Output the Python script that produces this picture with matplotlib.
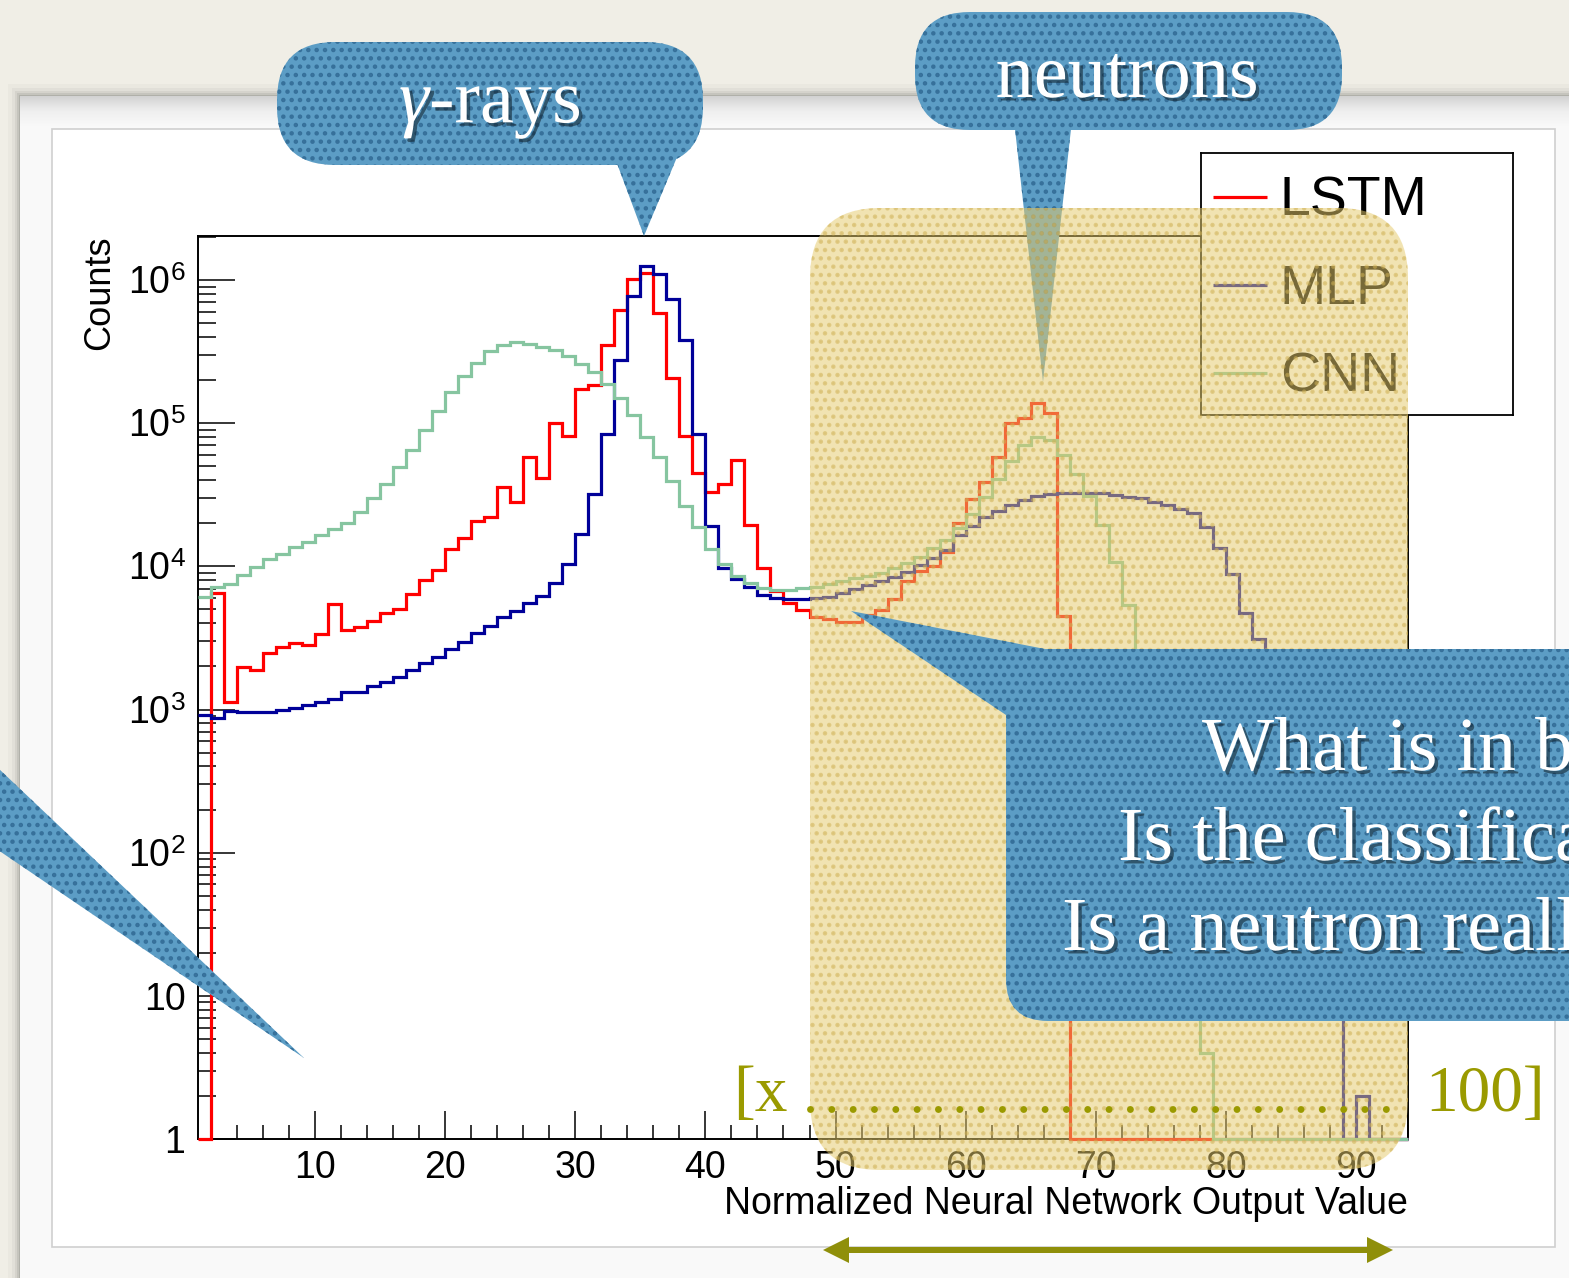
import numpy as np
import matplotlib
matplotlib.use("Agg")
import matplotlib.pyplot as plt
from matplotlib.patches import FancyBboxPatch, Polygon, Rectangle
from matplotlib.colors import LinearSegmentedColormap
from matplotlib.ticker import FixedLocator, MultipleLocator, LogLocator, NullFormatter
import matplotlib.patheffects as pe

plt.rcParams["font.family"] = ["Liberation Sans", "DejaVu Sans"]
plt.rcParams["mathtext.fontset"] = "custom"
plt.rcParams["mathtext.rm"] = "Liberation Sans"
plt.rcParams["mathtext.it"] = "Liberation Serif:italic"
plt.rcParams["mathtext.bf"] = "Liberation Sans:bold"
plt.rcParams["hatch.linewidth"] = 2.0

# ---------------- data ----------------
bin_edges = np.arange(1, 95)  # 93 unit-wide bins, 1 .. 94

lstm_counts = [
    0, 6530, 1130, 1990, 1900, 2470, 2720, 2900, 2820, 3360,
    5450, 3590, 3780, 4170, 4740, 5000, 6400, 8010, 9410, 13300,
    15900, 20600, 22200, 35600, 28200, 58200, 41100, 99500, 81200, 174600,
    184100, 350600, 615700, 1013000, 1121000, 592900, 205200, 81500, 44800, 33100,
    37700, 55700, 19400, 9660, 6780, 5530, 4940, 4400, 4260, 4100,
    4100, 4560, 4940, 5900, 7940, 9300, 10000, 12500, 19950, 29400,
    39000, 58200, 99500, 107900, 137400, 116900, 4500, 0, 0, 0,
    0, 0, 0, 0, 0, 0, 0, 0, 0, 0,
    0, 0, 0, 0, 0, 0, 0, 0, 0, 0,
    0, 0, 0,
]
mlp_counts = [
    914, 866, 975, 955, 955, 965, 990, 1018, 1074, 1132,
    1177, 1330, 1330, 1456, 1563, 1693, 1885, 2100, 2311, 2630,
    2970, 3400, 3820, 4444, 4890, 5510, 6225, 7600, 10350, 16800,
    31770, 83400, 275500, 774000, 1255000, 1099000, 734800, 379800, 83400, 19000,
    9660, 8100, 7190, 6300, 5970, 5900, 5880, 5970, 6120, 6470,
    6910, 7390, 7880, 8450, 9160, 10190, 11350, 13100, 16500, 19100,
    22200, 24400, 26800, 29000, 30900, 31900, 32600, 32600, 32600, 32300,
    31400, 30600, 29800, 28200, 26800, 25300, 23400, 18960, 13400, 8830,
    4700, 3100, 2000, 1170, 180, 45, 13, 13, 0, 2,
    0, 0, 0,
]
cnn_counts = [
    6120, 7190, 7510, 8690, 9930, 11170, 12170, 13550, 14820, 16510,
    18190, 20130, 24030, 29800, 37500, 49100, 64800, 89300, 121800, 165400,
    212700, 263600, 318300, 350600, 366200, 356300, 341400, 323600, 293800, 257000,
    227000, 189300, 150200, 113800, 80400, 57600, 39500, 26500, 18700, 13250,
    10400, 8540, 7600, 7010, 6820, 6820, 7080, 7190, 7510, 7880,
    8230, 8540, 9020, 9660, 10470, 11660, 13330, 15240, 18640, 23170,
    30300, 40450, 54500, 70200, 80200, 76100, 59800, 44400, 30800, 19500,
    10800, 5380, 2300, 900, 300, 90, 25, 4, 0, 0,
    0, 0, 0, 0, 0, 0, 0, 0, 0, 0,
    0, 0, 0,
]

series_names = ["LSTM", "MLP", "CNN"]
series_colors = ["#ff0000", "#000099", "#86c5a0"]
x_major_ticks = [10, 20, 30, 40, 50, 60, 70, 80, 90]
y_major_ticks = [1, 10, 1e2, 1e3, 1e4, 1e5, 1e6]
y_tick_labels = ["1", "10", r"$10^{2}$", r"$10^{3}$", r"$10^{4}$", r"$10^{5}$", r"$10^{6}$"]
x_label = "Normalized Neural Network Output Value"
y_label = "Counts"
gamma_text = r"$\gamma$-rays"
neutron_text = "neutrons"
question_lines = ["What is in b", "Is the classifica", "Is a neutron reall"]
range_left_text = "[x"
range_right_text = "100]"

# ---------------- figure ----------------
W, H, DPI = 1569, 1278, 100
fig = plt.figure(figsize=(W / DPI, H / DPI), dpi=DPI)
fig.patch.set_facecolor("#f0eee6")

def fx(px):
    return px / W

def fy(py):
    return 1 - py / H

# background (paper, card, canvas)
bg = fig.add_axes([0, 0, 1, 1], zorder=0)
bg.axis("off")
CX, CY = 20, 96
for d, a in [(12, 0.025), (8, 0.035), (5, 0.05), (3, 0.07), (1.5, 0.1)]:
    bg.add_patch(Rectangle((CX - d, CY - d), W + 50, H + 50, fc="black", alpha=a, lw=0))
bg.add_patch(Rectangle((CX, CY), W + 50, H + 50, fc="#f9f9f9", lw=0))
grad = np.linspace(0, 1, 64)[:, None]
cmap = LinearSegmentedColormap.from_list("g", ["#d2d2d2", "#efefef", "#f9f9f9"])
bg.imshow(grad, extent=(CX, W, CY + 30, CY), cmap=cmap, aspect="auto", zorder=1)
bg.add_patch(Rectangle((52, 129), 1503, 1118, fc="white", ec="#cfcfcf", lw=1.2, zorder=2))
bg.set_xlim(0, W)
bg.set_ylim(H, 0)

# ---------------- main plot ----------------
AX_L, AX_R, AX_T, AX_B = 198, 1408, 236, 1139
ax = fig.add_axes([fx(AX_L), fy(AX_B), (AX_R - AX_L) / W, (AX_B - AX_T) / H], zorder=1)
ax.set_facecolor("white")
YMIN, YMAX = 1, 2.03e6
for vals, name, col, z in zip([lstm_counts, mlp_counts, cnn_counts], series_names, series_colors, [3, 4, 5]):
    v = np.asarray(vals, dtype=float)
    v = np.where(v > 0, v, YMIN)
    ax.stairs(v, bin_edges, baseline=None, color=col, lw=2.3, label=name, zorder=z, clip_on=False)

ax.set_yscale("log")
ax.set_xlim(1, 94)
ax.set_ylim(YMIN, YMAX)
ax.xaxis.set_major_locator(FixedLocator(x_major_ticks))
ax.xaxis.set_minor_locator(MultipleLocator(2))
ax.set_yticks(y_major_ticks, y_tick_labels)
ax.yaxis.set_minor_locator(LogLocator(base=10, subs=np.arange(2, 10), numticks=30))
ax.yaxis.set_minor_formatter(NullFormatter())
ax.tick_params(axis="x", which="major", direction="in", length=20, width=1.1, labelsize=27, pad=8, top=False)
ax.tick_params(axis="x", which="minor", direction="in", length=10, width=1.1, top=False)
ax.tick_params(axis="y", which="major", direction="in", length=26.5, width=1.1, labelsize=27, pad=9, right=False)
ax.tick_params(axis="y", which="minor", direction="in", length=13, width=1.1, right=False)
for s in ax.spines.values():
    s.set_linewidth(1.4)

ax.set_xlabel(x_label, fontsize=27)
ax.xaxis.label.set_ha("right")
ax.xaxis.label.set_va("top")
ax.xaxis.set_label_coords(1.0, (AX_B - 1186) / (AX_B - AX_T))
ax.set_ylabel(y_label, fontsize=26)
ax.yaxis.label.set_ha("right")
ax.yaxis.label.set_va("bottom")
ax.yaxis.set_label_coords((117 - AX_L) / (AX_R - AX_L), 1.0)

# ---------------- legend box (ROOT style, fixed size) ----------------
LG_X0, LG_Y0, LG_X1, LG_Y1 = 1201, 153, 1513, 415
lg = fig.add_axes([fx(LG_X0), fy(LG_Y1), (LG_X1 - LG_X0) / W, (LG_Y1 - LG_Y0) / H], zorder=2)
lg.set_xlim(0, LG_X1 - LG_X0)
lg.set_ylim(LG_Y1 - LG_Y0, 0)
lg.set_xticks([])
lg.set_yticks([])
lg.set_facecolor("white")
for s in lg.spines.values():
    s.set_linewidth(1.3)
    s.set_color("black")
for i, (name, col) in enumerate(zip(series_names, series_colors)):
    yy = 44 + 88 * i
    lg.plot([12, 66], [yy, yy], color=col, lw=2.3, solid_capstyle="butt")
    lg.text(79, yy + 5, name, fontsize=40, ha="left", va="center", color="black")

# ---------------- overlay (slide annotations) ----------------
ov = fig.add_axes([0, 0, 1, 1], zorder=5)
ov.axis("off")

BLUE_FC = "#5c9dc5"
BLUE_DOT = "#36709a"

def bubble(x, y, w, h, r, tri, z):
    ov.add_patch(FancyBboxPatch((x, y), w, h, boxstyle=f"round,pad=0,rounding_size={r}",
                                fc=BLUE_FC, ec=BLUE_DOT, lw=0, hatch="..", zorder=z))
    if tri is not None:
        ov.add_patch(Polygon(tri, closed=True, fc=BLUE_FC, ec=BLUE_DOT, lw=0, hatch="..", zorder=z))

shadow = [pe.SimplePatchShadow(offset=(2.5, -2.5), shadow_rgbFace="#0d1c26", alpha=0.55), pe.Normal()]

# gamma bubble
bubble(277, 42, 426, 123, 58, [(612, 150), (680, 150), (644, 236)], 2)
ov.text(490, 123, gamma_text, fontsize=55, family="Liberation Serif", color="white",
        ha="center", va="baseline", path_effects=shadow, zorder=7)
# neutron bubble
bubble(915, 12, 427, 118, 55, [(1014, 120), (1072, 120), (1043, 382)], 2)
ov.text(1127, 97, neutron_text, fontsize=55, family="Liberation Serif", color="white",
        ha="center", va="baseline", path_effects=shadow, zorder=7)

# yellow highlight
ov.add_patch(FancyBboxPatch((810, 208), 598, 962, boxstyle="round,pad=0,rounding_size=70",
                            fc="#e6cb6c", ec="#cfb155", lw=0, hatch="..", alpha=0.52, zorder=3))

# big question callout
bubble(1006, 649, 700, 372, 42, [(851, 611), (1045, 649), (1006, 715)], 4)
for txt, x0, yb in zip(question_lines, [1202, 1118, 1062], [770, 860, 950]):
    ov.text(x0, yb, txt, fontsize=55, family="Liberation Serif", color="white",
            ha="left", va="baseline", path_effects=shadow, zorder=7, clip_on=True)

# left wedge
ov.add_patch(Polygon([(-2, 768), (-2, 850), (304, 1058)], closed=True, fc=BLUE_FC, ec=BLUE_DOT,
                     lw=0, hatch="..", zorder=4))

# range annotation
OLIVE = "#9a9a00"
ov.plot([810, 1400], [1109, 1109], color=OLIVE, lw=5, linestyle=(0, (0.001, 3.07)),
        dash_capstyle="round", zorder=6)
ov.text(733, 1111, range_left_text, fontsize=47, family="Liberation Serif", color=OLIVE,
        ha="left", va="baseline", zorder=6)
ov.text(1425, 1111, range_right_text, fontsize=47, family="Liberation Serif", color=OLIVE,
        ha="left", va="baseline", zorder=6)
arrow = [(823, 1250), (849, 1237), (849, 1247), (1367, 1247), (1367, 1237), (1393, 1250),
         (1367, 1263), (1367, 1253), (849, 1253), (849, 1263)]
ov.add_patch(Polygon(arrow, closed=True, fc="#8f8f0a", lw=0, zorder=6))

ov.set_xlim(0, W)
ov.set_ylim(H, 0)

fig.savefig("out.png", dpi=DPI, facecolor=fig.get_facecolor())
